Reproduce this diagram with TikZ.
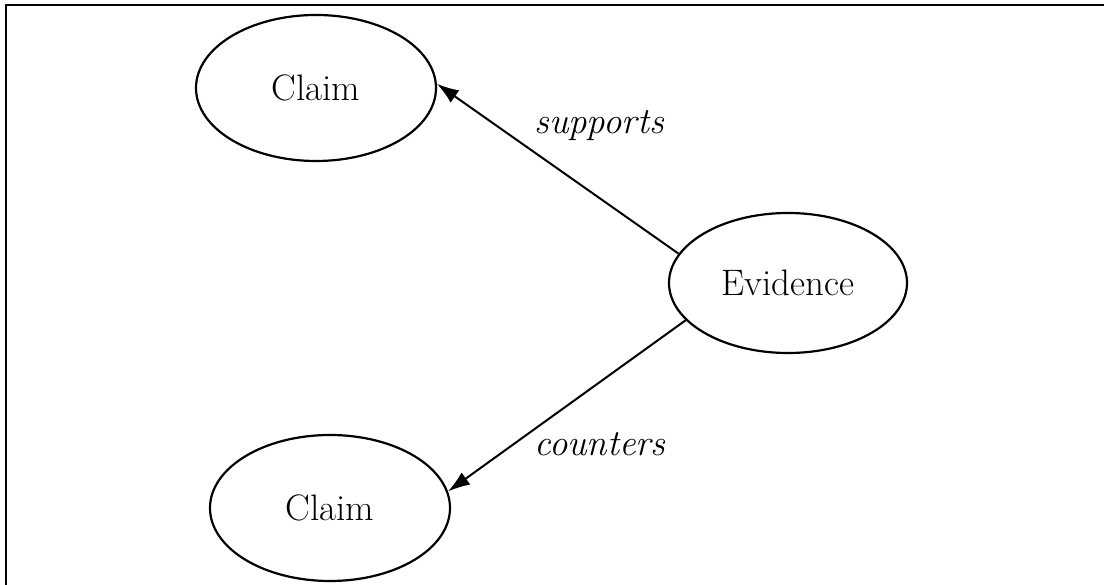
\documentclass[tikz,border=0pt]{standalone}
\usetikzlibrary{shapes.geometric,arrows.meta}
\begin{document}
\begin{tikzpicture}[x=1bp,y=1bp,
  bubble/.style={draw,ellipse,line width=2.2bp,inner sep=0pt,font=\fontsize{37}{44}\selectfont},
  rel/.style={line width=2bp,-{Latex[length=22bp,width=15bp]}},
  lbl/.style={anchor=base,inner sep=0pt,font=\fontsize{37}{44}\selectfont\itshape}]
\useasboundingbox (0,0) rectangle (1104,585);
\draw[line width=2bp] (6,0) -- (6,580) -- (1104,580);
\node[bubble,minimum width=240bp,minimum height=146bp] (claimA) at (316,497) {Claim};
\node[bubble,minimum width=240bp,minimum height=146bp] (claimB) at (330,77) {Claim};
\node[bubble,minimum width=238bp,minimum height=140bp] (ev) at (788,302) {Evidence};
\draw[rel] (ev.165) -- (claimA.2);
\draw[rel] (ev.200) -- (claimB.8);
\node[lbl] (sup) at (599,451) {supports};
\node[lbl] (cou) at (600,129) {counters};
\end{tikzpicture}
\end{document}
